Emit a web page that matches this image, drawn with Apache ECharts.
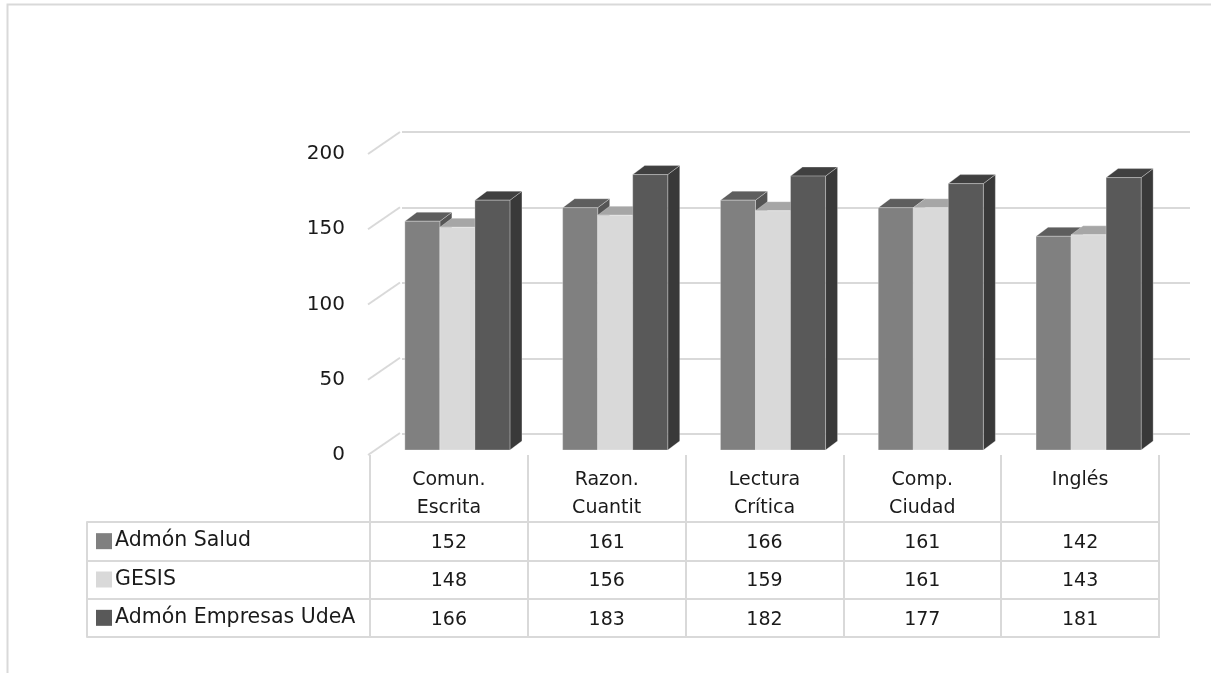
<!DOCTYPE html>
<html>
<head>
<meta charset="utf-8">
<script src="https://cdn.jsdelivr.net/npm/echarts@6/dist/echarts.min.js"></script>
<style>
html,body{margin:0;padding:0;background:#fff;}
#chart{width:1211px;height:673px;}
</style>
</head>
<body>
<div id="chart"></div>
<script>
// ---- data ----
const categories = ['Comun.\nEscrita', 'Razon.\nCuantit', 'Lectura\nCrítica', 'Comp.\nCiudad', 'Inglés'];
const seriesNames = ['Admón Salud', 'GESIS', 'Admón Empresas UdeA'];
const admonSalud = [152, 161, 166, 161, 142];
const gesis = [148, 156, 159, 161, 143];
const admonEmpresas = [166, 183, 182, 177, 181];
const yTicks = [0, 50, 100, 150, 200];

const seriesValues = [admonSalud, gesis, admonEmpresas];
const FONT = 'DejaVu Sans';
const TXT = '#1a1a1a';
const GRID_C = '#d9d9d9';

// colours: front, top, side
const palette = [
  { front: '#808080', top: '#5e5e5e', side: '#555555' },
  { front: '#d9d9d9', top: '#a6a6a6', side: '#a0a0a0' },
  { front: '#595959', top: '#404040', side: '#393939' }
];

// 3D projection constants (style)
const WALL_DX = 32, WALL_DY = -22;
const BAR_OX = 8.5, BAR_OY = -5;
const DEPTH_DX = 12, DEPTH_DY = -9;
const BAR_FRAC = 0.222;

function barRenderer(si) {
  return function (params, api) {
    const cat = api.value(0), v = api.value(1);
    const base = api.coord([cat, 0]);
    const top = api.coord([cat, v]);
    const bw = api.size([1, 0])[0] * BAR_FRAC;
    const x0 = base[0] - 1.5 * bw + si * bw + BAR_OX;
    const yb = base[1] + BAR_OY;
    const yt = top[1] + BAR_OY;
    const c = palette[si];
    const edge = { stroke: 'rgba(255,255,255,0.28)', lineWidth: 1 };
    return {
      type: 'group',
      children: [
        { type: 'polygon', shape: { points: [[x0 + bw, yt], [x0 + bw + DEPTH_DX, yt + DEPTH_DY], [x0 + bw + DEPTH_DX, yb + DEPTH_DY], [x0 + bw, yb]] },
          style: Object.assign({ fill: c.side }, edge) },
        { type: 'polygon', shape: { points: [[x0, yt], [x0 + bw, yt], [x0 + bw + DEPTH_DX, yt + DEPTH_DY], [x0 + DEPTH_DX, yt + DEPTH_DY]] },
          style: Object.assign({ fill: c.top }, edge) },
        { type: 'rect', shape: { x: x0, y: yt, width: bw, height: yb - yt },
          style: Object.assign({ fill: c.front }, edge) }
      ]
    };
  };
}

const barSeries = seriesValues.map((vals, si) => ({
  type: 'custom',
  name: seriesNames[si],
  xAxisIndex: 0, yAxisIndex: 0,
  renderItem: barRenderer(si),
  data: vals.map((v, ci) => [ci, v]),
  z: 10,
  silent: true
}));

const wallSeries = {
  type: 'custom',
  xAxisIndex: 0, yAxisIndex: 0,
  z: 2,
  silent: true,
  renderItem: function (params, api) {
    const p = api.coord([0, api.value(0)]);
    const left = p[0] - api.size([1, 0])[0] / 2 - 2;
    return { type: 'line', shape: { x1: left, y1: p[1], x2: left + WALL_DX, y2: p[1] + WALL_DY },
      style: { stroke: GRID_C, lineWidth: 2 } };
  },
  data: yTicks.map(v => [v])
};

const tableData = [];
seriesValues.forEach((vals, ri) => vals.forEach((v, ci) => tableData.push([ci, ri, v])));
const tableSeries = {
  type: 'custom',
  xAxisIndex: 2, yAxisIndex: 2,
  z: 10,
  silent: true,
  renderItem: function (params, api) {
    const p = api.coord([api.value(0), api.value(1)]);
    return { type: 'text', x: p[0], y: p[1] + 2,
      style: { text: String(api.value(2)), align: 'center', verticalAlign: 'middle',
        fontSize: 19, fontFamily: FONT, fill: TXT } };
  },
  data: tableData
};

const rich = { t: { fontSize: 20.5, fontFamily: FONT, color: TXT, padding: [0, 0, 0, 3] } };
palette.forEach((c, i) => { rich['s' + i] = { width: 16, height: 16, backgroundColor: c.front }; });

const chart = echarts.init(document.getElementById('chart'), null, { renderer: 'canvas' });
chart.setOption({
  backgroundColor: '#fff',
  animation: false,
  graphic: [{
    type: 'rect', left: 5, top: 2, silent: true,
    shape: { width: 1260, height: 720 },
    style: { fill: 'none', stroke: GRID_C, lineWidth: 2 }
  }],
  grid: [
    { left: 370, right: 52, top: 154, height: 301 },   // front plane
    { left: 402, right: 21, top: 132, height: 302 },   // back wall
    { left: 370, right: 52, top: 522, height: 115, show: true, borderColor: GRID_C, borderWidth: 2 } // table
  ],
  xAxis: [
    { gridIndex: 0, type: 'category', data: categories,
      axisLine: { show: false },
      axisTick: { show: true, length: 67, interval: 0, lineStyle: { color: GRID_C, width: 2 } },
      axisLabel: { margin: 11, fontSize: 19, lineHeight: 28, fontFamily: FONT, color: TXT, interval: 0 },
      splitLine: { show: false } },
    { gridIndex: 1, type: 'category', data: categories, show: false },
    { gridIndex: 2, type: 'category', data: categories,
      axisLine: { show: false }, axisTick: { show: false }, axisLabel: { show: false },
      splitLine: { show: true, interval: 0, lineStyle: { color: GRID_C, width: 2 } } }
  ],
  yAxis: [
    { gridIndex: 0, type: 'value', min: 0, max: 200, interval: 50,
      axisLine: { show: false }, axisTick: { show: false }, splitLine: { show: false },
      axisLabel: { margin: 25, fontSize: 20, fontFamily: FONT, color: TXT } },
    { gridIndex: 1, type: 'value', min: 0, max: 200, interval: 50,
      axisLine: { show: false }, axisTick: { show: false }, axisLabel: { show: false },
      splitLine: { show: true, lineStyle: { color: GRID_C, width: 2 } } },
    { gridIndex: 2, type: 'category', data: seriesNames, inverse: true,
      axisLine: { show: true, lineStyle: { color: GRID_C, width: 2 } },
      axisTick: { show: true, length: 283, interval: 0, lineStyle: { color: GRID_C, width: 2 } },
      axisLabel: { align: 'left', margin: 274, interval: 0,
        formatter: (v, i) => '{s' + i + '|}{t|' + v + '}', rich: rich },
      splitLine: { show: true, interval: 0, lineStyle: { color: GRID_C, width: 2 } } },
    { gridIndex: 2, type: 'category', data: seriesNames, inverse: true, position: 'left', offset: 283,
      axisLine: { show: true, lineStyle: { color: GRID_C, width: 2 } },
      axisTick: { show: false }, axisLabel: { show: false }, splitLine: { show: false } }
  ],
  series: [wallSeries].concat(barSeries, [tableSeries])
});
</script>
</body>
</html>
